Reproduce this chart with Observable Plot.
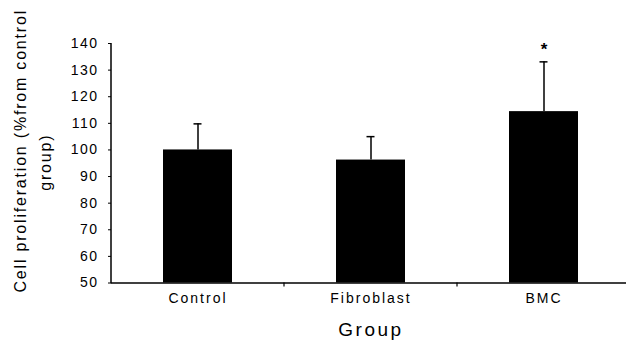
<!DOCTYPE html>
<html>
<head>
<meta charset="utf-8">
<script src="https://cdn.jsdelivr.net/npm/d3@7"></script>
<script src="https://cdn.jsdelivr.net/npm/@observablehq/plot@0.6"></script>
<style>
  html, body { margin: 0; padding: 0; background: #fff; }
  #chart svg { display: block; font-family: "Liberation Sans", Arial, sans-serif; }
</style>
</head>
<body>
<div id="chart"></div>
<script>
// ---- data ----
const groups = ["Control", "Fibroblast", "BMC"];
const means = [100, 96.2, 114.4];
const errors = [9.8, 8.8, 18.7];
const marks = ["", "", "*"];
const yTicks = [50, 60, 70, 80, 90, 100, 110, 120, 130, 140];
const yDomain = [50, 140];
const xTitle = "Group";
const yTitleLines = ["Cell proliferation (%from control", "group)"];

const data = groups.map((g, i) => ({group: g, value: means[i], upper: means[i] + errors[i], mark: marks[i]}));

const W = 626, H = 341;
const ML = 111, MR = -4, MT = 43, MB = 58.5;

// axis line + category-boundary ticks drawn from the scales
function axisLines(index, scales) {
  const x = scales.x, y = scales.y;
  const step = x(groups[1]) - x(groups[0]);
  const bw = typeof x.bandwidth === "function" ? x.bandwidth() : (x.bandwidth || 0);
  const ns = "http://www.w3.org/2000/svg";
  const g = document.createElementNS(ns, "g");
  g.setAttribute("stroke", "#000");
  const line = (x1, y1, x2, y2, w) => {
    const l = document.createElementNS(ns, "line");
    l.setAttribute("x1", x1); l.setAttribute("y1", y1);
    l.setAttribute("x2", x2); l.setAttribute("y2", y2);
    l.setAttribute("stroke-width", w);
    g.appendChild(l);
  };
  const left = x(groups[0]) + bw / 2 - step / 2;
  line(left, y(yDomain[1]), left, y(yDomain[0]) + 0.75, 1.5);
  groups.forEach((grp, i) => {
    const bx = x(grp) + bw / 2 + step / 2;
    if (i < groups.length - 1) line(bx, y(yDomain[0]), bx, y(yDomain[0]) + 4, 1.2);
  });
  return g;
}

const plot = Plot.plot({
  width: W,
  height: H,
  marginLeft: ML,
  marginRight: MR,
  marginTop: MT,
  marginBottom: MB,
  style: {fontFamily: "'Liberation Sans', Arial, sans-serif", color: "#000", background: "#fff"},
  x: {type: "band", domain: groups, paddingInner: 0.6, paddingOuter: 0.3, label: null},
  y: {domain: yDomain, label: null},
  marks: [
    Plot.barY(data, {x: "group", y1: () => yDomain[0], y2: "value", fill: "#000"}),
    Plot.ruleX(data, {x: "group", y1: "value", y2: "upper", stroke: "#000", strokeWidth: 1.5}),
    Plot.tickY(data, {x: "group", y: "upper", stroke: "#000", strokeWidth: 1.5, insetLeft: 30.5, insetRight: 30.5}),
    Plot.text(data, {x: "group", y: "upper", text: "mark", dy: -12, fontSize: 17, fontWeight: "bold", fill: "#000"}),
    Plot.ruleY([yDomain[0]], {stroke: "#000", strokeWidth: 1.5}),
    axisLines,
    Plot.axisY({ticks: yTicks, tickSize: 3, tickPadding: 10, fontSize: 14, label: null, tickFormat: d => String(d)}),
    Plot.axisX({tickSize: 0, tickPadding: 10, fontSize: 14, label: null}),
    Plot.text([xTitle], {frameAnchor: "bottom", dy: 47, text: d => d, fontSize: 19, fill: "#000", lineAnchor: "middle", textAnchor: "middle"}),
    Plot.text([yTitleLines[0]], {frameAnchor: "left", dx: -91, dy: -12.5, rotate: -90, text: d => d, fontSize: 16, fill: "#000", lineAnchor: "middle", textAnchor: "middle"}),
    Plot.text([yTitleLines[1]], {frameAnchor: "left", dx: -66, dy: -1, rotate: -90, text: d => d, fontSize: 16, fill: "#000", lineAnchor: "middle", textAnchor: "middle"})
  ]
});

// letter spacing to match the reference's wide type
const svg = d3.select(plot);
svg.selectAll('g[aria-label="y-axis tick label"] text').style("letter-spacing", "1.5px");
svg.selectAll('g[aria-label="x-axis tick label"] text').style("letter-spacing", "2px");
svg.selectAll("text").each(function() {
  const t = this.textContent;
  if (t === xTitle) this.style.letterSpacing = "2.5px";
  if (yTitleLines.includes(t)) this.style.letterSpacing = "1.8px";
});
document.getElementById("chart").appendChild(plot);
</script>
</body>
</html>
